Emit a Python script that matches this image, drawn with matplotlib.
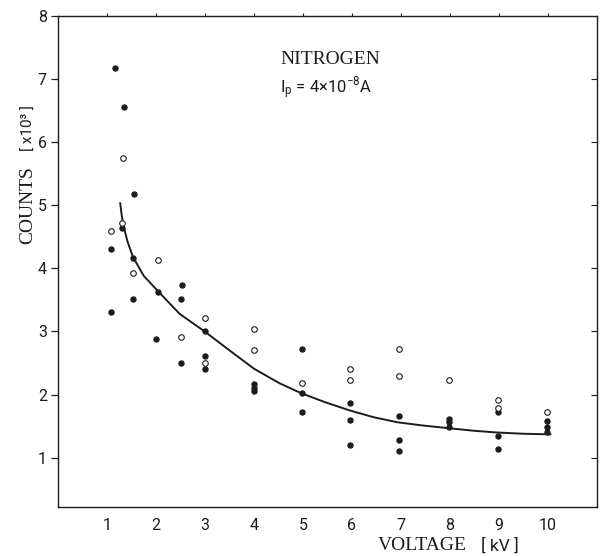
import matplotlib
matplotlib.use("Agg")
import matplotlib.pyplot as plt

# Counts (x10^3) against accelerating voltage (kV), nitrogen, Ip = 4e-8 A
open_kv = [1.32, 1.31, 1.09, 1.53, 2.04, 2.50, 3.01, 3.01, 4.01, 4.01, 4.97,
           5.95, 5.95, 6.95, 6.95, 7.97, 8.97, 8.97, 9.97]
open_counts = [5.75, 4.72, 4.59, 3.92, 4.13, 2.91, 3.21, 2.50, 3.04, 2.70, 2.18,
               2.40, 2.23, 2.72, 2.30, 2.23, 1.92, 1.78, 1.72]

filled_kv = [1.16, 1.34, 1.56, 1.31, 1.09, 1.08, 1.53, 1.53, 2.05, 2.01,
             2.53, 2.52, 2.50, 3.01, 3.01, 3.01, 4.00, 4.00, 4.00,
             4.98, 4.97, 4.97, 5.95, 5.95, 5.95, 6.95, 6.95, 6.95,
             7.97, 7.97, 7.97, 8.97, 8.97, 8.97, 9.97, 9.97, 9.97]
filled_counts = [7.17, 6.56, 5.17, 4.64, 4.30, 3.31, 4.16, 3.52, 3.62, 2.88,
                 3.74, 3.51, 2.50, 3.00, 2.61, 2.40, 2.17, 2.11, 2.05,
                 2.72, 2.03, 1.72, 1.86, 1.60, 1.20, 1.66, 1.28, 1.11,
                 1.62, 1.56, 1.49, 1.72, 1.35, 1.14, 1.58, 1.49, 1.41]

# Hand-fitted trend curve
curve_kv = [1.27, 1.30, 1.34, 1.42, 1.53, 1.75, 2.05, 2.48, 3.01, 3.50, 4.00,
            4.52, 4.97, 5.45, 5.95, 6.45, 6.94, 7.45, 7.95, 8.45, 8.95, 9.50, 10.05]
curve_counts = [5.03, 4.84, 4.66, 4.42, 4.18, 3.88, 3.63, 3.28, 2.99, 2.70, 2.41,
                2.18, 2.02, 1.88, 1.75, 1.64, 1.56, 1.51, 1.47, 1.43, 1.40, 1.38, 1.37]

x_ticks = [1, 2, 3, 4, 5, 6, 7, 8, 9, 10]
y_ticks = [1, 2, 3, 4, 5, 6, 7, 8]

sans = ["Roboto", "DejaVu Sans"]
serif = ["Liberation Serif", "DejaVu Serif"]
ink = "#1c1c1c"
plt.rcParams["font.family"] = sans

fig = plt.figure(figsize=(6.05, 5.56), dpi=100)
ax = fig.add_axes([58 / 605, (556 - 507) / 556, (597 - 58) / 605, (507 - 15.7) / 556])

ax.plot(curve_kv, curve_counts, color=ink, lw=1.4, zorder=2)
ax.plot(filled_kv, filled_counts, "o", ms=3.6, color=ink, mec=ink, zorder=3)
ax.plot(open_kv, open_counts, "o", ms=4.0, mfc="white", mec=ink, mew=0.8, zorder=4)

ax.set_xlim(0, 11)
ax.set_ylim(0.22, 8)

for s in ax.spines.values():
    s.set_color(ink)
    s.set_linewidth(1.0)

ax.set_xticks(x_ticks)
ax.set_xticklabels([str(v) for v in x_ticks])
ax.set_yticks(y_ticks)
ax.set_yticklabels([str(v) for v in y_ticks])
ax.tick_params(axis="x", length=0, pad=8, labelsize=11.5, colors=ink)
ax.tick_params(axis="y", direction="out", length=5, width=0.9, pad=3,
               labelsize=11.5, colors=ink)

top = ax.secondary_xaxis("top")
top.set_xticks(x_ticks)
top.set_xticklabels([])
top.tick_params(direction="out", length=2.5, width=0.8, colors=ink)
top.spines["top"].set_visible(False)

right = ax.secondary_yaxis("right")
right.set_yticks(y_ticks[:-1])
right.set_yticklabels([])
right.tick_params(direction="in", length=4, width=0.8, colors=ink)
right.spines["right"].set_visible(False)

# Axis titles
fig.text(28 / 605, 1 - 205 / 556, "COUNTS", rotation=90, family=serif,
         fontsize=14, color=ink, ha="center", va="center")
fig.text(29 / 605, 1 - 128 / 556, "[ x10³ ]", rotation=90, family=sans,
         fontsize=11, color=ink, ha="center", va="center")
fig.text(378 / 605, 1 - 546 / 556, "VOLTAGE", family=serif, fontsize=14,
         color=ink, ha="left", va="center")
fig.text(481 / 605, 1 - 546 / 556, "[ kV ]", family=sans,
         fontsize=12.5, color=ink, ha="left", va="center")

# Annotation inside the frame
fig.text(330 / 605, 1 - 59 / 556, "NITROGEN", family=serif, fontsize=14,
         color=ink, ha="center", va="center")
fig.text(280 / 605, 1 - 88 / 556, r"$\mathregular{I_p}$ = 4×10$^{\mathregular{-8}}$A",
         family=sans, fontsize=12, color=ink, ha="left", va="center")

fig.savefig("out.png", dpi=100, facecolor="white")
